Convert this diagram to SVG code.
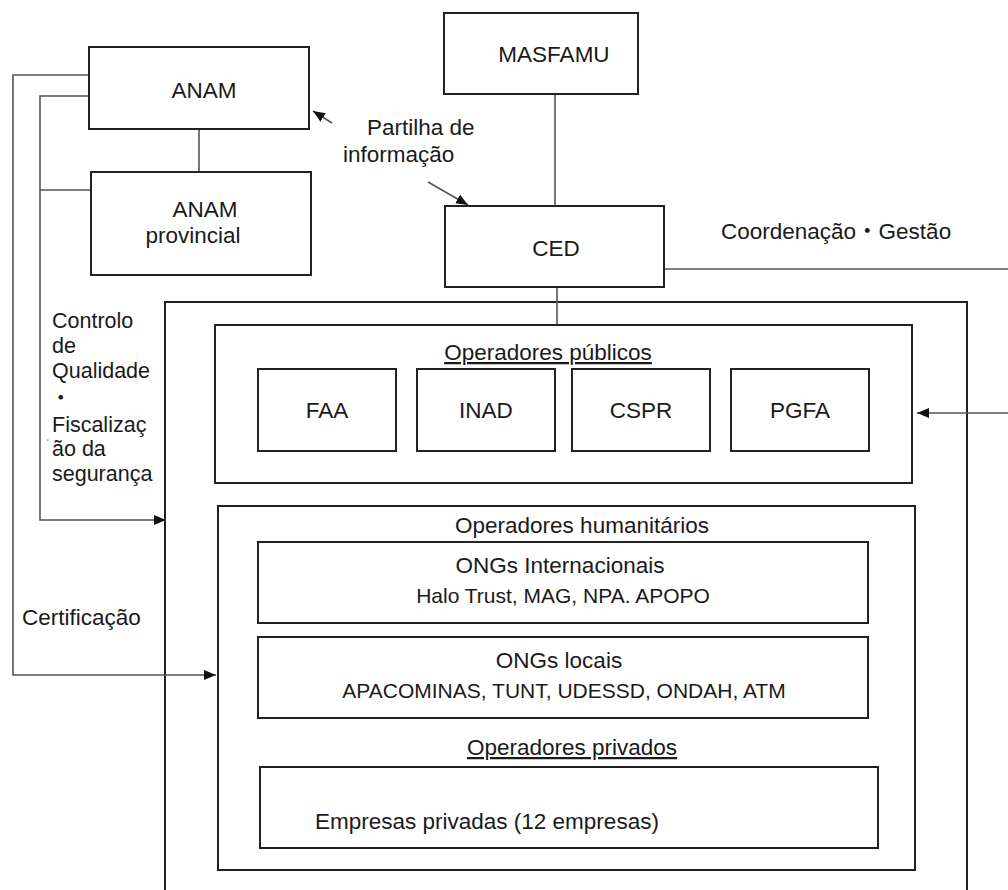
<svg xmlns="http://www.w3.org/2000/svg" width="1008" height="890" viewBox="0 0 1008 890">
  <style>
    .box { fill: #ffffff; stroke: #222222; stroke-width: 2; }
    .frame { fill: none; stroke: #222222; stroke-width: 2; }
    .conn { fill: none; stroke: #555555; stroke-width: 1.6; }
    .lbl { font-family: "Liberation Sans", Arial, "Noto Sans CJK JP", sans-serif; font-size: 22.5px; fill: #1a1a1a; }
    .sub { font-family: "Liberation Sans", Arial, sans-serif; font-size: 21px; fill: #1a1a1a; }
    .side { font-family: "Liberation Sans", Arial, "Noto Sans CJK JP", sans-serif; font-size: 21.5px; fill: #1a1a1a; }
    .mid { text-anchor: middle; }
    .ul { text-decoration: underline; }
  </style>
  <defs>
    <marker id="arrow" viewBox="0 0 12 10" refX="12" refY="5" markerWidth="12" markerHeight="10" orient="auto" markerUnits="userSpaceOnUse">
      <path d="M0,0 L12,5 L0,10 z" fill="#111111"/>
    </marker>
  </defs>

  <rect width="1008" height="890" fill="#ffffff"/>

  <!-- outer operator frame, open at the bottom -->
  <g id="operators-frame">
    <path class="frame" d="M165,890 V302 H967 V890"/>
  </g>

  <!-- connectors -->
  <g id="connectors">
    <path class="conn" d="M89,75 H13 V675 H216" marker-end="url(#arrow)"/>
    <path class="conn" d="M89,96 H40 V520 H166" marker-end="url(#arrow)"/>
    <path class="conn" d="M40,190 H92"/>
    <path class="conn" d="M199,129 V172"/>
    <path class="conn" d="M555,94 V206"/>
    <path class="conn" d="M557,287 V325"/>
    <path class="conn" d="M664,269 H1008"/>
    <path class="conn" d="M1008,413 H917" marker-end="url(#arrow)"/>
    <path class="conn" d="M332,123 L313,111" marker-end="url(#arrow)"/>
    <path class="conn" d="M428,182 L468,205" marker-end="url(#arrow)"/>
  </g>

  <g id="anam">
    <rect class="box" x="89" y="47" width="220" height="82"/>
    <text class="lbl" x="204" y="98" text-anchor="middle">ANAM</text>
  </g>

  <g id="anam-provincial">
    <rect class="box" x="91" y="172" width="220" height="103"/>
    <text class="lbl" x="205" y="217" text-anchor="middle">ANAM</text>
    <text class="lbl" x="193" y="243" text-anchor="middle">provincial</text>
  </g>

  <g id="masfamu">
    <rect class="box" x="444" y="13" width="194" height="81"/>
    <text class="lbl" x="554" y="62" text-anchor="middle">MASFAMU</text>
  </g>

  <g id="ced">
    <rect class="box" x="445" y="206" width="219" height="81"/>
    <text class="lbl" x="556" y="256" text-anchor="middle">CED</text>
  </g>

  <!-- free labels -->
  <g id="labels">
    <text class="lbl" x="367" y="135">Partilha de</text>
    <text class="lbl" x="343" y="162">informação</text>
    <text class="lbl" x="721" y="239">Coordenação・Gestão</text>
    <text class="side" x="52" y="328">Controlo</text>
    <text class="side" x="52" y="353">de</text>
    <text class="side" x="52" y="378">Qualidade</text>
    <text class="side" x="50" y="405">・</text>
    <text class="side" x="52" y="432">Fiscalizaç</text>
    <text class="side" x="46" y="447" style="font-size:11px">ˈ</text>
    <text class="side" x="52" y="456">ão da</text>
    <text class="side" x="52" y="481">segurança</text>
    <text class="lbl" x="22" y="625">Certificação</text>
  </g>

  <g id="public-operators">
    <rect class="box" x="215" y="325" width="697" height="158"/>
    <text class="lbl mid ul" x="548" y="360">Operadores públicos</text>
  </g>
  <g id="faa">
    <rect class="box" x="258" y="369" width="138" height="82"/>
    <text class="lbl" x="327" y="418" text-anchor="middle">FAA</text>
  </g>
  <g id="inad">
    <rect class="box" x="417" y="369" width="138" height="82"/>
    <text class="lbl" x="486" y="418" text-anchor="middle">INAD</text>
  </g>
  <g id="cspr">
    <rect class="box" x="572" y="369" width="138" height="82"/>
    <text class="lbl" x="641" y="418" text-anchor="middle">CSPR</text>
  </g>
  <g id="pgfa">
    <rect class="box" x="731" y="369" width="138" height="82"/>
    <text class="lbl" x="800" y="418" text-anchor="middle">PGFA</text>
  </g>

  <g id="humanitarian-operators">
    <rect class="box" x="218" y="506" width="697" height="364"/>
    <text class="lbl mid" x="582" y="533">Operadores humanitários</text>
    <text class="lbl mid ul" x="572" y="755">Operadores privados</text>
  </g>
  <g id="international-ngos">
    <rect class="box" x="258" y="542" width="610" height="81"/>
    <text class="lbl mid" x="560" y="573">ONGs Internacionais</text>
    <text class="sub mid" x="563" y="603">Halo Trust, MAG, NPA. APOPO</text>
  </g>
  <g id="local-ngos">
    <rect class="box" x="258" y="637" width="610" height="81"/>
    <text class="lbl mid" x="559" y="668">ONGs locais</text>
    <text class="sub mid" x="564" y="698">APACOMINAS, TUNT, UDESSD, ONDAH, ATM</text>
  </g>
  <g id="private-companies">
    <rect class="box" x="260" y="767" width="618" height="81"/>
    <text class="lbl" x="315" y="829">Empresas privadas (12 empresas)</text>
  </g>
</svg>
